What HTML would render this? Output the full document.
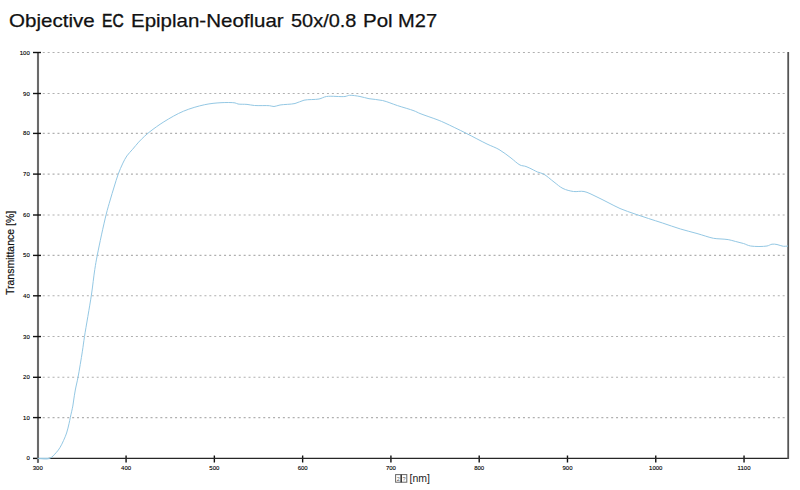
<!DOCTYPE html>
<html><head><meta charset="utf-8"><style>
html,body{margin:0;padding:0;background:#fff;width:800px;height:490px;overflow:hidden}
body{position:relative;font-family:"Liberation Sans",sans-serif}
.tw{position:absolute;top:10.5px;font-size:19px;color:#111;white-space:nowrap;line-height:1;-webkit-text-stroke:0.25px #111;transform-origin:0 0}
svg{position:absolute;left:0;top:0}
.xl{font-family:"Liberation Sans",sans-serif;font-size:10.5px;fill:#222}
.tl{font-family:"Liberation Sans",sans-serif;font-size:6px;fill:#000;stroke:#000;stroke-width:0.12px}
#ylab{position:absolute;left:0;top:0;font-size:10.5px;color:#111;-webkit-text-stroke:0.2px #111;white-space:nowrap;transform-origin:0 0}
#xlab{position:absolute;font-size:10.5px;color:#222;white-space:nowrap}
.box{display:inline-block;width:4.5px;height:7px;border:0.8px solid #333;vertical-align:-1px;margin-right:0.5px}
</style></head><body>
<span class="tw" style="left:9.22px;transform:scaleX(1.0821)">Objective</span><span class="tw" style="left:102.48px;transform:scaleX(0.8200);-webkit-text-stroke:0.55px #111">EC</span><span class="tw" style="left:131.32px;transform:scaleX(1.0787)">Epiplan-Neofluar</span><span class="tw" style="left:290.95px;transform:scaleX(1.0492)">50x/0.8</span><span class="tw" style="left:362.92px;transform:scaleX(1.0800)">Pol</span><span class="tw" style="left:397.94px;transform:scaleX(1.0571)">M27</span>
<svg width="800" height="490" viewBox="0 0 800 490">
<line x1="42.75" y1="417.60" x2="784.8" y2="417.60" stroke="#b0b0b0" stroke-width="1.1" stroke-dasharray="2 2.9"/>
<line x1="42.75" y1="377.30" x2="784.8" y2="377.30" stroke="#b0b0b0" stroke-width="1.1" stroke-dasharray="2 2.9"/>
<line x1="42.75" y1="336.55" x2="784.8" y2="336.55" stroke="#b0b0b0" stroke-width="1.1" stroke-dasharray="2 2.9"/>
<line x1="42.75" y1="295.80" x2="784.8" y2="295.80" stroke="#b0b0b0" stroke-width="1.1" stroke-dasharray="2 2.9"/>
<line x1="42.75" y1="255.40" x2="784.8" y2="255.40" stroke="#b0b0b0" stroke-width="1.1" stroke-dasharray="2 2.9"/>
<line x1="42.75" y1="215.00" x2="784.8" y2="215.00" stroke="#b0b0b0" stroke-width="1.1" stroke-dasharray="2 2.9"/>
<line x1="42.75" y1="174.10" x2="784.8" y2="174.10" stroke="#b0b0b0" stroke-width="1.1" stroke-dasharray="2 2.9"/>
<line x1="42.75" y1="133.40" x2="784.8" y2="133.40" stroke="#b0b0b0" stroke-width="1.1" stroke-dasharray="2 2.9"/>
<line x1="42.75" y1="93.50" x2="784.8" y2="93.50" stroke="#b0b0b0" stroke-width="1.1" stroke-dasharray="2 2.9"/>
<line x1="42.75" y1="52.50" x2="784.8" y2="52.50" stroke="#b0b0b0" stroke-width="1.1" stroke-dasharray="2 2.9"/>
<line x1="37.80" y1="455.5" x2="37.80" y2="462.5" stroke="#111" stroke-width="1.4"/>
<text x="37.80" y="470" class="tl" text-anchor="middle">300</text>
<line x1="126.08" y1="455.5" x2="126.08" y2="462.5" stroke="#111" stroke-width="1.4"/>
<text x="126.08" y="470" class="tl" text-anchor="middle">400</text>
<line x1="214.36" y1="455.5" x2="214.36" y2="462.5" stroke="#111" stroke-width="1.4"/>
<text x="214.36" y="470" class="tl" text-anchor="middle">500</text>
<line x1="302.64" y1="455.5" x2="302.64" y2="462.5" stroke="#111" stroke-width="1.4"/>
<text x="302.64" y="470" class="tl" text-anchor="middle">600</text>
<line x1="390.92" y1="455.5" x2="390.92" y2="462.5" stroke="#111" stroke-width="1.4"/>
<text x="390.92" y="470" class="tl" text-anchor="middle">700</text>
<line x1="479.20" y1="455.5" x2="479.20" y2="462.5" stroke="#111" stroke-width="1.4"/>
<text x="479.20" y="470" class="tl" text-anchor="middle">800</text>
<line x1="567.48" y1="455.5" x2="567.48" y2="462.5" stroke="#111" stroke-width="1.4"/>
<text x="567.48" y="470" class="tl" text-anchor="middle">900</text>
<line x1="655.76" y1="455.5" x2="655.76" y2="462.5" stroke="#111" stroke-width="1.4"/>
<text x="655.76" y="470" class="tl" text-anchor="middle">1000</text>
<line x1="744.04" y1="455.5" x2="744.04" y2="462.5" stroke="#111" stroke-width="1.4"/>
<text x="744.04" y="470" class="tl" text-anchor="middle">1100</text>
<line x1="48.6" y1="458.4" x2="789" y2="458.4" stroke="#262626" stroke-width="1.35"/>
<line x1="38.0" y1="52" x2="38.0" y2="462.8" stroke="#6a6a6a" stroke-width="2.1"/>
<line x1="788.2" y1="52" x2="788.2" y2="459" stroke="#555" stroke-width="1.8"/>
<line x1="33" y1="458.40" x2="37" y2="458.40" stroke="#111" stroke-width="1.4"/>
<text x="29.8" y="460.40" class="tl" text-anchor="end">0</text>
<line x1="33" y1="417.60" x2="41" y2="417.60" stroke="#111" stroke-width="1.4"/>
<text x="29.8" y="419.60" class="tl" text-anchor="end">10</text>
<line x1="33" y1="377.30" x2="41" y2="377.30" stroke="#111" stroke-width="1.4"/>
<text x="29.8" y="379.30" class="tl" text-anchor="end">20</text>
<line x1="33" y1="336.55" x2="41" y2="336.55" stroke="#111" stroke-width="1.4"/>
<text x="29.8" y="338.55" class="tl" text-anchor="end">30</text>
<line x1="33" y1="295.80" x2="41" y2="295.80" stroke="#111" stroke-width="1.4"/>
<text x="29.8" y="297.80" class="tl" text-anchor="end">40</text>
<line x1="33" y1="255.40" x2="41" y2="255.40" stroke="#111" stroke-width="1.4"/>
<text x="29.8" y="257.40" class="tl" text-anchor="end">50</text>
<line x1="33" y1="215.00" x2="41" y2="215.00" stroke="#111" stroke-width="1.4"/>
<text x="29.8" y="217.00" class="tl" text-anchor="end">60</text>
<line x1="33" y1="174.10" x2="41" y2="174.10" stroke="#111" stroke-width="1.4"/>
<text x="29.8" y="176.10" class="tl" text-anchor="end">70</text>
<line x1="33" y1="133.40" x2="41" y2="133.40" stroke="#111" stroke-width="1.4"/>
<text x="29.8" y="135.40" class="tl" text-anchor="end">80</text>
<line x1="33" y1="93.50" x2="41" y2="93.50" stroke="#111" stroke-width="1.4"/>
<text x="29.8" y="95.50" class="tl" text-anchor="end">90</text>
<line x1="33" y1="52.50" x2="41" y2="52.50" stroke="#111" stroke-width="1.4"/>
<text x="29.8" y="54.50" class="tl" text-anchor="end">100</text>
<line x1="39" y1="458.4" x2="49.5" y2="458.4" stroke="#a9c9d9" stroke-width="1.5"/>
<path d="M37.80,458.40 C41.70,458.40 46.31,459.59 49.50,458.40 C52.27,457.37 54.38,454.55 56.20,452.60 C57.72,450.98 58.74,449.55 59.90,447.70 C61.24,445.56 62.48,442.87 63.60,440.40 C64.71,437.96 65.72,435.66 66.60,433.00 C67.58,430.02 68.44,426.13 69.10,423.30 C69.60,421.13 69.82,419.76 70.30,417.50 C70.97,414.33 72.21,409.32 72.80,406.10 C73.23,403.76 73.35,402.28 73.70,400.00 C74.15,397.08 74.64,393.52 75.30,390.00 C76.04,386.01 77.05,382.30 78.00,377.30 C79.36,370.16 81.24,358.67 82.40,351.20 C83.27,345.61 83.55,342.64 84.50,336.50 C86.10,326.17 89.58,307.18 91.40,295.00 C92.83,285.45 93.68,276.69 94.80,269.40 C95.64,263.93 96.13,261.06 97.30,255.10 C99.27,245.04 103.59,224.81 106.10,214.70 C107.62,208.56 108.83,204.74 110.20,200.00 C111.49,195.53 112.76,191.31 114.10,187.00 C115.43,182.71 116.69,178.28 118.20,174.20 C119.63,170.33 121.31,166.36 122.90,163.10 C124.22,160.40 125.31,158.17 126.90,155.90 C128.53,153.56 130.67,151.55 132.60,149.30 C134.60,146.96 136.66,144.31 138.70,142.10 C140.56,140.07 142.39,138.27 144.30,136.50 C146.16,134.78 147.63,133.45 150.00,131.60 C153.57,128.82 158.77,124.98 163.90,121.80 C169.78,118.16 176.69,114.05 183.50,111.20 C190.29,108.36 198.04,106.12 204.70,104.70 C210.43,103.48 215.76,102.98 221.00,102.70 C225.83,102.44 232.07,102.36 235.00,102.90 C236.40,103.16 236.71,103.74 238.00,104.00 C240.17,104.44 244.14,104.13 247.00,104.40 C249.62,104.65 251.56,105.27 254.50,105.50 C258.63,105.83 265.97,105.37 269.50,105.70 C271.45,105.88 272.40,106.56 274.00,106.50 C275.86,106.44 277.53,105.43 280.00,105.00 C283.86,104.33 290.69,104.49 295.00,103.50 C298.44,102.71 300.56,100.95 304.00,100.20 C308.31,99.26 314.90,99.83 319.00,99.00 C321.97,98.40 323.39,97.00 326.50,96.50 C331.25,95.73 340.95,97.03 345.00,96.50 C347.03,96.23 347.67,95.43 349.50,95.30 C352.25,95.10 356.65,95.90 360.00,96.50 C363.13,97.06 365.68,98.07 369.00,98.70 C373.03,99.46 377.93,99.43 382.50,100.50 C387.42,101.65 392.37,103.92 397.50,105.60 C402.86,107.36 409.90,109.24 414.00,110.80 C416.53,111.76 417.44,112.46 420.00,113.50 C424.37,115.27 433.41,118.19 438.00,120.00 C440.89,121.14 442.06,121.66 445.00,123.00 C450.14,125.35 459.02,129.71 466.00,133.20 C473.02,136.71 480.94,141.06 487.00,144.00 C491.53,146.20 495.10,147.25 499.00,149.50 C503.11,151.87 507.32,155.26 511.00,158.00 C514.24,160.41 517.16,163.62 520.00,165.00 C522.09,166.02 523.93,165.76 526.00,166.50 C528.40,167.35 531.40,168.98 533.50,170.00 C535.05,170.75 536.01,171.38 537.50,172.00 C539.27,172.74 541.33,172.85 543.50,174.00 C546.64,175.66 550.62,179.49 554.00,182.00 C557.10,184.30 559.73,186.91 563.00,188.50 C566.24,190.07 569.96,191.00 573.50,191.50 C576.97,191.99 580.46,190.79 584.00,191.50 C587.94,192.29 592.03,194.68 596.00,196.50 C600.03,198.35 604.00,200.50 608.00,202.50 C612.00,204.50 615.72,206.65 620.00,208.50 C624.67,210.52 630.12,212.29 635.00,214.00 C639.61,215.61 643.96,217.01 648.50,218.50 C653.12,220.01 657.55,221.38 662.50,223.00 C668.13,224.84 674.61,227.22 680.50,229.00 C686.10,230.69 691.51,231.95 697.00,233.50 C702.51,235.05 709.23,237.49 713.50,238.30 C716.13,238.80 717.71,238.70 720.00,238.90 C722.57,239.13 725.58,239.16 728.20,239.60 C730.67,240.02 732.85,240.78 735.30,241.40 C737.94,242.07 740.88,242.71 743.50,243.50 C745.97,244.25 747.69,245.50 750.60,246.00 C754.89,246.73 763.15,246.67 767.00,246.00 C769.19,245.62 770.31,244.44 772.00,244.20 C773.64,243.96 775.25,244.20 777.00,244.50 C779.00,244.84 781.34,246.09 783.30,246.30 C784.96,246.48 786.43,246.10 788.00,246.00" fill="none" stroke="#94c8e4" stroke-width="1" stroke-linejoin="round"/>
<rect x="395.6" y="474.6" width="5.6" height="7.6" fill="none" stroke="#666" stroke-width="1"/>
<rect x="401.2" y="474.6" width="5.6" height="7.6" fill="none" stroke="#666" stroke-width="1"/>
<line x1="401.2" y1="474.6" x2="401.2" y2="482.2" stroke="#222" stroke-width="1"/>
<text x="398.4" y="480.8" font-size="5.5" text-anchor="middle" fill="#555" font-family="Liberation Sans">2</text>
<text x="404.0" y="480.8" font-size="5.5" text-anchor="middle" fill="#555" font-family="Liberation Sans">?</text>
<text x="409.6" y="482.4" class="xl">[nm]</text>
</svg>
<div id="ylab" style="transform:translate(4.2px,295px) rotate(-90deg)">Transmittance [%]</div>

</body></html>
